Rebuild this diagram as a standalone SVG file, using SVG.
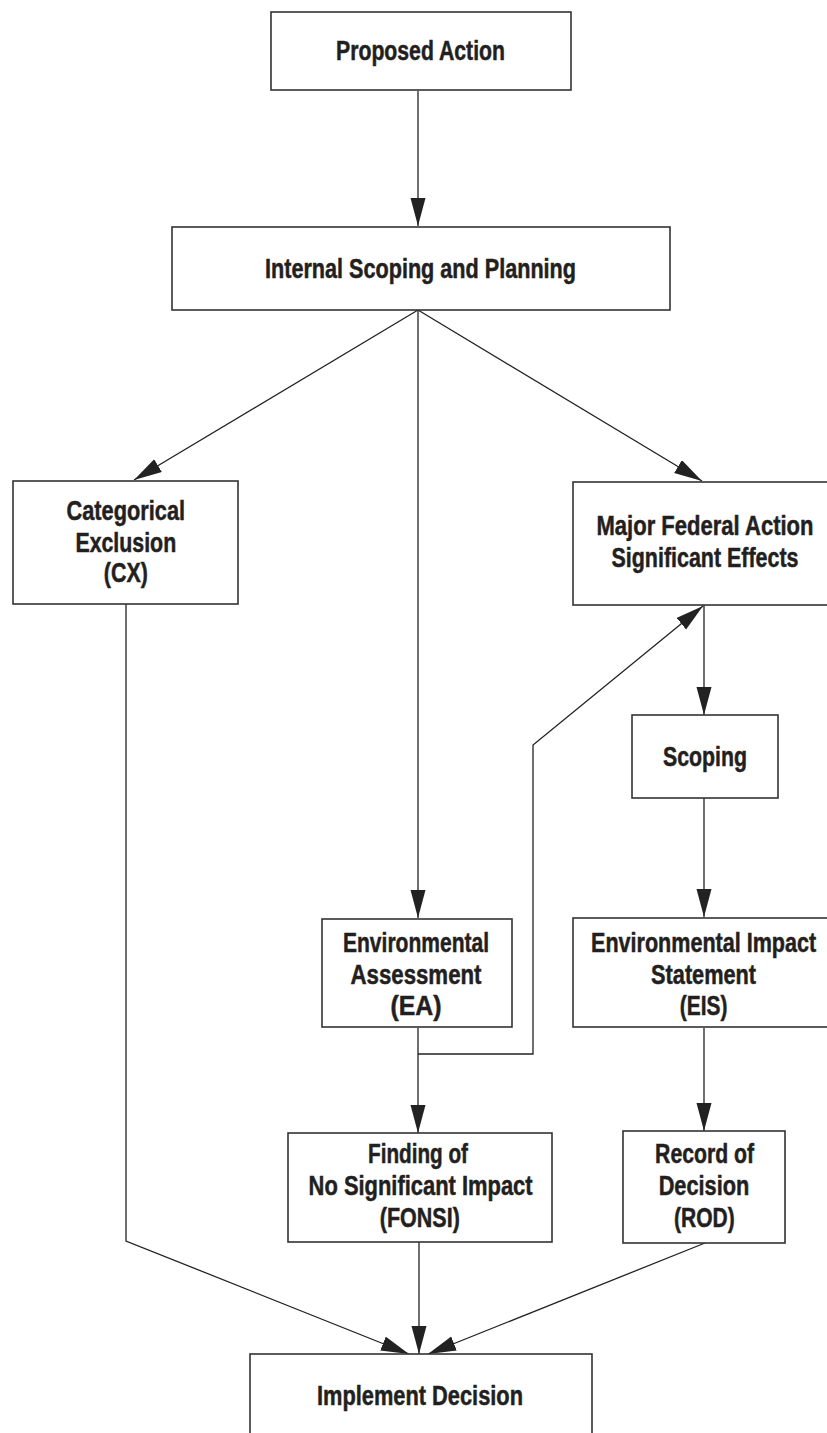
<svg xmlns="http://www.w3.org/2000/svg" width="827" height="1433" viewBox="0 0 827 1433">
<style>
.box{fill:#fff;stroke:#333;stroke-width:1.6}
.lbl{font-family:"Liberation Sans",Arial,sans-serif;font-weight:bold;font-size:27.5px;fill:#231f20;stroke:#231f20;stroke-width:0.5;text-anchor:middle}
.con{fill:none;stroke:#222;stroke-width:1.3}
</style>
<defs>
<marker id="ah" markerUnits="userSpaceOnUse" markerWidth="30" markerHeight="16" refX="28" refY="7.5" orient="auto">
<path d="M0,0 L28,7.5 L0,15 Z" fill="#222"/>
</marker>
</defs>
<rect width="827" height="1433" fill="#fff"/>
<g id="connectors">
<line class="con" x1="418" y1="91" x2="418" y2="226" marker-end="url(#ah)"/>
<line class="con" x1="418" y1="310" x2="134" y2="480" marker-end="url(#ah)"/>
<line class="con" x1="418" y1="310" x2="418" y2="918" marker-end="url(#ah)"/>
<line class="con" x1="418" y1="310" x2="702" y2="481" marker-end="url(#ah)"/>
<line class="con" x1="704" y1="605" x2="704" y2="715" marker-end="url(#ah)"/>
<line class="con" x1="704" y1="798" x2="704" y2="917" marker-end="url(#ah)"/>
<line class="con" x1="418" y1="1028" x2="418" y2="1133" marker-end="url(#ah)"/>
<polyline class="con" points="418,1054 533,1054 533,745 703,606" marker-end="url(#ah)"/>
<line class="con" x1="704" y1="1028" x2="704" y2="1131" marker-end="url(#ah)"/>
<polyline class="con" points="126,604 126,1241 409,1354" marker-end="url(#ah)"/>
<line class="con" x1="419" y1="1242" x2="419" y2="1354" marker-end="url(#ah)"/>
<line class="con" x1="705" y1="1243" x2="428" y2="1354" marker-end="url(#ah)"/>
</g>
<g id="proposed-action">
<rect class="box" x="271" y="12" width="300" height="78"/>
<text class="lbl" x="420.5" y="60" textLength="169" lengthAdjust="spacingAndGlyphs">Proposed Action</text>
</g>
<g id="internal-scoping">
<rect class="box" x="172" y="227" width="498" height="83"/>
<text class="lbl" x="420.5" y="278" textLength="311" lengthAdjust="spacingAndGlyphs">Internal Scoping and Planning</text>
</g>
<g id="cx">
<rect class="box" x="13" y="481" width="225" height="123"/>
<text class="lbl" x="125.8" y="520" textLength="118.5" lengthAdjust="spacingAndGlyphs">Categorical</text>
<text class="lbl" x="125.8" y="552" textLength="100.8" lengthAdjust="spacingAndGlyphs">Exclusion</text>
<text class="lbl" x="125.8" y="582" textLength="44" lengthAdjust="spacingAndGlyphs">(CX)</text>
</g>
<g id="major-federal">
<rect class="box" x="573" y="482" width="270" height="123"/>
<text class="lbl" x="705" y="535" textLength="217" lengthAdjust="spacingAndGlyphs">Major Federal Action</text>
<text class="lbl" x="705" y="567" textLength="187" lengthAdjust="spacingAndGlyphs">Significant Effects</text>
</g>
<g id="scoping">
<rect class="box" x="632" y="715" width="146" height="83"/>
<text class="lbl" x="705" y="766" textLength="84" lengthAdjust="spacingAndGlyphs">Scoping</text>
</g>
<g id="ea">
<rect class="box" x="322" y="919" width="190" height="108"/>
<text class="lbl" x="416" y="952" textLength="146" lengthAdjust="spacingAndGlyphs">Environmental</text>
<text class="lbl" x="416" y="984" textLength="131" lengthAdjust="spacingAndGlyphs">Assessment</text>
<text class="lbl" x="416" y="1015" textLength="51" lengthAdjust="spacingAndGlyphs">(EA)</text>
</g>
<g id="eis">
<rect class="box" x="573" y="918" width="270" height="109"/>
<text class="lbl" x="703.6" y="952" textLength="225" lengthAdjust="spacingAndGlyphs">Environmental Impact</text>
<text class="lbl" x="703.6" y="984" textLength="105" lengthAdjust="spacingAndGlyphs">Statement</text>
<text class="lbl" x="703.6" y="1015" textLength="47.6" lengthAdjust="spacingAndGlyphs">(EIS)</text>
</g>
<g id="fonsi">
<rect class="box" x="288" y="1133" width="264" height="109"/>
<text class="lbl" x="418" y="1163" textLength="100" lengthAdjust="spacingAndGlyphs">Finding of</text>
<text class="lbl" x="420.6" y="1195" textLength="224" lengthAdjust="spacingAndGlyphs">No Significant Impact</text>
<text class="lbl" x="419.8" y="1227" textLength="80" lengthAdjust="spacingAndGlyphs">(FONSI)</text>
</g>
<g id="rod">
<rect class="box" x="623" y="1131" width="162" height="112"/>
<text class="lbl" x="704.6" y="1163" textLength="99" lengthAdjust="spacingAndGlyphs">Record of</text>
<text class="lbl" x="704" y="1195" textLength="90.7" lengthAdjust="spacingAndGlyphs">Decision</text>
<text class="lbl" x="704.4" y="1227" textLength="60.7" lengthAdjust="spacingAndGlyphs">(ROD)</text>
</g>
<g id="implement">
<rect class="box" x="250" y="1354" width="342" height="100"/>
<text class="lbl" x="420" y="1405" textLength="206" lengthAdjust="spacingAndGlyphs">Implement Decision</text>
</g>
</svg>
